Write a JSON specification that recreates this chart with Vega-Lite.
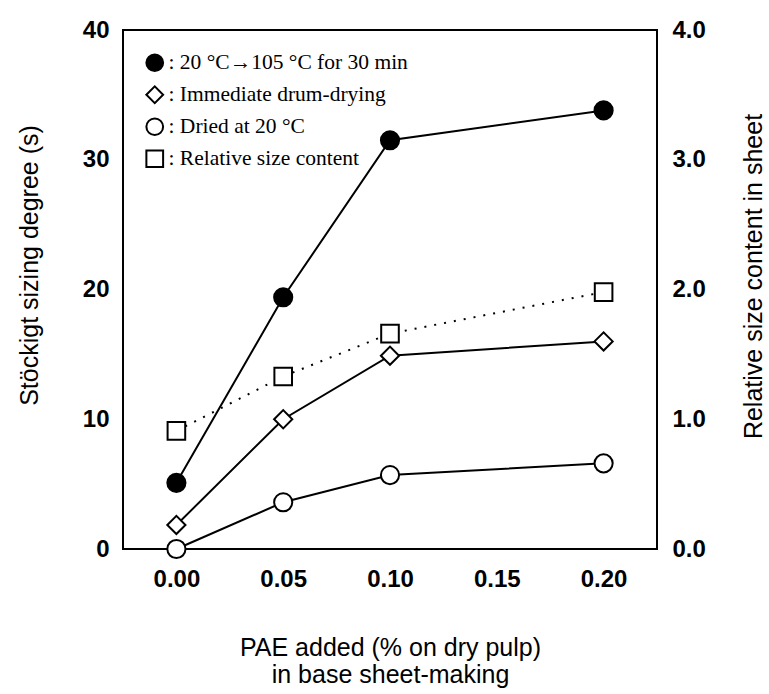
{
  "$schema": "https://vega.github.io/schema/vega-lite/v6.json",
  "width": 534,
  "height": 519,
  "autosize": {"type": "none"},
  "padding": {"left": 123, "top": 30, "right": 112, "bottom": 145},
  "background": "white",
  "config": {
    "view": {"stroke": "black", "strokeWidth": 2},
    "axis": {
      "domain": false,
      "ticks": false,
      "grid": false,
      "labelFont": "Liberation Sans",
      "labelFontWeight": "bold",
      "labelFontSize": 24,
      "labelColor": "black",
      "titleFont": "Liberation Sans",
      "titleFontWeight": "normal",
      "titleFontSize": 25,
      "titleColor": "black"
    },
    "legend": {
      "labelFont": "Liberation Serif",
      "labelFontSize": 21.5,
      "labelColor": "black",
      "labelLimit": 0,
      "symbolStrokeColor": "black",
      "symbolStrokeWidth": 2,
      "symbolSize": 280
    }
  },
  "datasets": {
    "xticks": [{"t": 0}, {"t": 0.05}, {"t": 0.1}, {"t": 0.15}, {"t": 0.2}],
    "yticks": [{"v": 10}, {"v": 20}, {"v": 30}]
  },
  "data": {
    "values": [
      {"pae": 0.00, "series": "20 °C→105 °C for 30 min", "value": 5.1},
      {"pae": 0.05, "series": "20 °C→105 °C for 30 min", "value": 19.4},
      {"pae": 0.10, "series": "20 °C→105 °C for 30 min", "value": 31.5},
      {"pae": 0.20, "series": "20 °C→105 °C for 30 min", "value": 33.8},
      {"pae": 0.00, "series": "Immediate drum-drying", "value": 1.85},
      {"pae": 0.05, "series": "Immediate drum-drying", "value": 10.0},
      {"pae": 0.10, "series": "Immediate drum-drying", "value": 14.9},
      {"pae": 0.20, "series": "Immediate drum-drying", "value": 16.0},
      {"pae": 0.00, "series": "Dried at 20 °C", "value": 0.0},
      {"pae": 0.05, "series": "Dried at 20 °C", "value": 3.6},
      {"pae": 0.10, "series": "Dried at 20 °C", "value": 5.7},
      {"pae": 0.20, "series": "Dried at 20 °C", "value": 6.6},
      {"pae": 0.00, "series": "Relative size content", "value": 0.91},
      {"pae": 0.05, "series": "Relative size content", "value": 1.33},
      {"pae": 0.10, "series": "Relative size content", "value": 1.66},
      {"pae": 0.20, "series": "Relative size content", "value": 1.98}
    ]
  },
  "encoding": {
    "x": {
      "field": "pae",
      "type": "quantitative",
      "title": ["PAE added (% on dry pulp)", "in base sheet-making"],
      "scale": {"domain": [-0.025, 0.225], "nice": false, "zero": false},
      "axis": {
        "values": [0, 0.05, 0.1, 0.15, 0.2],
        "format": ".2f",
        "labelPadding": 18,
        "titlePadding": 44,
        "titleLineHeight": 27
      }
    }
  },
  "layer": [
    {
      "encoding": {
        "y": {
          "field": "value",
          "type": "quantitative",
          "title": "Stöckigt sizing degree (s)",
          "scale": {"domain": [0, 40], "nice": false},
          "axis": {
            "orient": "left",
            "values": [0, 10, 20, 30, 40],
            "labelPadding": 14,
            "titlePadding": 40,
            "titleY": 235
          }
        }
      },
      "layer": [
        {
          "transform": [{"filter": "datum.series !== 'Relative size content'"}],
          "mark": {"type": "line", "color": "black", "strokeWidth": 2},
          "encoding": {"detail": {"field": "series"}}
        },
        {
          "transform": [{"filter": "datum.series !== 'Relative size content'"}],
          "mark": {"type": "point", "strokeWidth": 2, "opacity": 1},
          "encoding": {
            "shape": {
              "field": "series",
              "type": "nominal",
              "scale": {
                "domain": ["20 °C→105 °C for 30 min", "Immediate drum-drying", "Dried at 20 °C", "Relative size content"],
                "range": ["circle", "diamond", "circle", "square"]
              },
              "legend": {
                "title": null,
                "orient": "none",
                "legendX": 21,
                "legendY": 22,
                "padding": 0,
                "rowPadding": 6,
                "labelOffset": 3,
                "labelLimit": 0,
                "labelExpr": "': ' + datum.label"
              }
            },
            "fill": {
              "field": "series",
              "type": "nominal",
              "scale": {
                "domain": ["20 °C→105 °C for 30 min", "Immediate drum-drying", "Dried at 20 °C", "Relative size content"],
                "range": ["black", "white", "white", "white"]
              },
              "legend": {
                "title": null,
                "orient": "none",
                "legendX": 21,
                "legendY": 22,
                "padding": 0,
                "rowPadding": 6,
                "labelOffset": 3,
                "labelLimit": 0,
                "labelExpr": "': ' + datum.label"
              }
            },
            "stroke": {
              "field": "series",
              "type": "nominal",
              "scale": {
                "domain": ["20 °C→105 °C for 30 min", "Immediate drum-drying", "Dried at 20 °C", "Relative size content"],
                "range": ["black", "black", "black", "black"]
              },
              "legend": {
                "title": null,
                "orient": "none",
                "legendX": 21,
                "legendY": 22,
                "padding": 0,
                "rowPadding": 6,
                "labelOffset": 3,
                "labelLimit": 0,
                "labelExpr": "': ' + datum.label"
              }
            },
            "size": {"value": 330}
          }
        },
        {
          "data": {"name": "xticks"},
          "mark": {"type": "tick", "orient": "vertical", "color": "black", "size": 11, "thickness": 2, "yOffset": -5.5},
          "encoding": {
            "x": {"field": "t", "type": "quantitative", "title": ["PAE added (% on dry pulp)", "in base sheet-making"]},
            "y": {"datum": 0, "type": "quantitative", "title": "Stöckigt sizing degree (s)"}
          }
        },
        {
          "data": {"name": "xticks"},
          "mark": {"type": "tick", "orient": "vertical", "color": "black", "size": 11, "thickness": 2, "yOffset": 5.5},
          "encoding": {
            "x": {"field": "t", "type": "quantitative", "title": ["PAE added (% on dry pulp)", "in base sheet-making"]},
            "y": {"datum": 40, "type": "quantitative", "title": "Stöckigt sizing degree (s)"}
          }
        },
        {
          "data": {"name": "yticks"},
          "mark": {"type": "tick", "orient": "horizontal", "color": "black", "size": 11, "thickness": 2, "xOffset": 5.5},
          "encoding": {
            "x": {"datum": -0.025, "type": "quantitative", "title": ["PAE added (% on dry pulp)", "in base sheet-making"]},
            "y": {"field": "v", "type": "quantitative", "title": "Stöckigt sizing degree (s)"}
          }
        },
        {
          "data": {"name": "yticks"},
          "mark": {"type": "tick", "orient": "horizontal", "color": "black", "size": 11, "thickness": 2, "xOffset": -5.5},
          "encoding": {
            "x": {"datum": 0.225, "type": "quantitative", "title": ["PAE added (% on dry pulp)", "in base sheet-making"]},
            "y": {"field": "v", "type": "quantitative", "title": "Stöckigt sizing degree (s)"}
          }
        }
      ]
    },
    {
      "transform": [{"filter": "datum.series === 'Relative size content'"}],
      "encoding": {
        "y": {
          "field": "value",
          "type": "quantitative",
          "title": "Relative size content in sheet",
          "scale": {"domain": [0, 4], "nice": false},
          "axis": {
            "orient": "right",
            "values": [0, 1, 2, 3, 4],
            "format": ".1f",
            "labelPadding": 15,
            "titleAngle": -90,
            "titlePadding": 61,
            "titleY": 246
          }
        }
      },
      "layer": [
        {
          "mark": {"type": "line", "color": "black", "strokeWidth": 2, "strokeDash": [2, 8]},
          "encoding": {}
        },
        {
          "mark": {"type": "point", "strokeWidth": 2, "opacity": 1},
          "encoding": {
            "shape": {"field": "series", "type": "nominal"},
            "fill": {"field": "series", "type": "nominal"},
            "stroke": {"field": "series", "type": "nominal"},
            "size": {"value": 310}
          }
        }
      ]
    }
  ],
  "resolve": {"scale": {"y": "independent"}}
}
